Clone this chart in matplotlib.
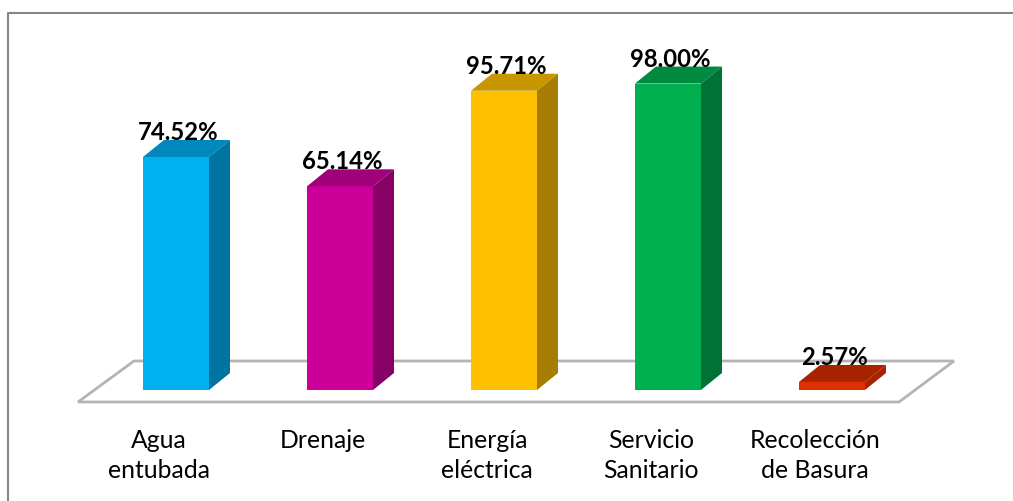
import matplotlib
matplotlib.use('Agg')
import matplotlib.pyplot as plt
from matplotlib.lines import Line2D
from matplotlib.patches import Polygon

categories = ['Agua\nentubada', 'Drenaje', 'Energía\neléctrica', 'Servicio\nSanitario', 'Recolección\nde Basura']
values = [74.52, 65.14, 95.71, 98.00, 2.57]
front_colors = ['#00B0F0', '#CC0099', '#FFC000', '#00B050', '#E03000']
top_colors = ['#0088BC', '#A0007A', '#C89700', '#008A3F', '#A82400']
side_colors = ['#0074A0', '#860065', '#A67D00', '#007236', '#A82400']

W, H = 1013, 501
px_per_bar = 164.0
px_per_unit = 3.127
floor_px = 403
base_px = 390

plt.rcParams['font.family'] = ['Lato', 'DejaVu Sans']

fig = plt.figure(figsize=(W / 100, H / 100), dpi=100)
ax = fig.add_axes([0, 1 - floor_px / H, 1, floor_px / H])
ax.set_xlim((0 - 143 - 33) / px_per_bar, (W - 143 - 33) / px_per_bar)
ax.set_ylim((base_px - floor_px) / px_per_unit, base_px / px_per_unit)
for s in ax.spines.values():
    s.set_visible(False)
ax.set_yticks([])

bar_w = 66 / px_per_bar
dx = 21 / px_per_bar
dy = 17 / px_per_unit


def x_of(px):
    return (px - 176) / px_per_bar


def y_of(px):
    return (base_px - px) / px_per_unit


# marco
fig.add_artist(Line2D([7.5 / W, 7.5 / W, 1], [0, 1 - 12.5 / H, 1 - 12.5 / H], color='#868686', lw=1.5))

# piso
floor = [(78, 402), (134, 361), (954, 361), (899, 402)]
ax.add_patch(Polygon([(x_of(a), y_of(b)) for a, b in floor], closed=True, facecolor='white',
                     edgecolor='#B4B4B4', lw=2, clip_on=False, zorder=1))

xs = list(range(len(values)))
ax.bar(xs, values, width=bar_w, color=front_colors, zorder=3)

for x, v, tc, sc in zip(xs, values, top_colors, side_colors):
    r = x + bar_w / 2
    l = x - bar_w / 2
    ax.add_patch(Polygon([(l, v), (r, v), (r + dx, v + dy), (l + dx, v + dy)], closed=True,
                         facecolor=tc, edgecolor='none', zorder=3))
    ax.add_patch(Polygon([(r, 0), (r + dx, dy), (r + dx, v + dy), (r, v)], closed=True,
                         facecolor=sc, edgecolor='none', zorder=3))
    ax.text(x + 2 / px_per_bar, v + dy, '%.2f%%' % v, ha='center', va='baseline', fontsize=17.2,
            fontweight='bold', color='black', zorder=4)

ax.set_xticks([x - 17 / px_per_bar for x in xs])
ax.set_xticklabels(categories, fontsize=17.8, color='black', linespacing=1.35)
ax.tick_params(axis='x', length=0, pad=19)

fig.savefig('out.png', dpi=100, facecolor='white')
